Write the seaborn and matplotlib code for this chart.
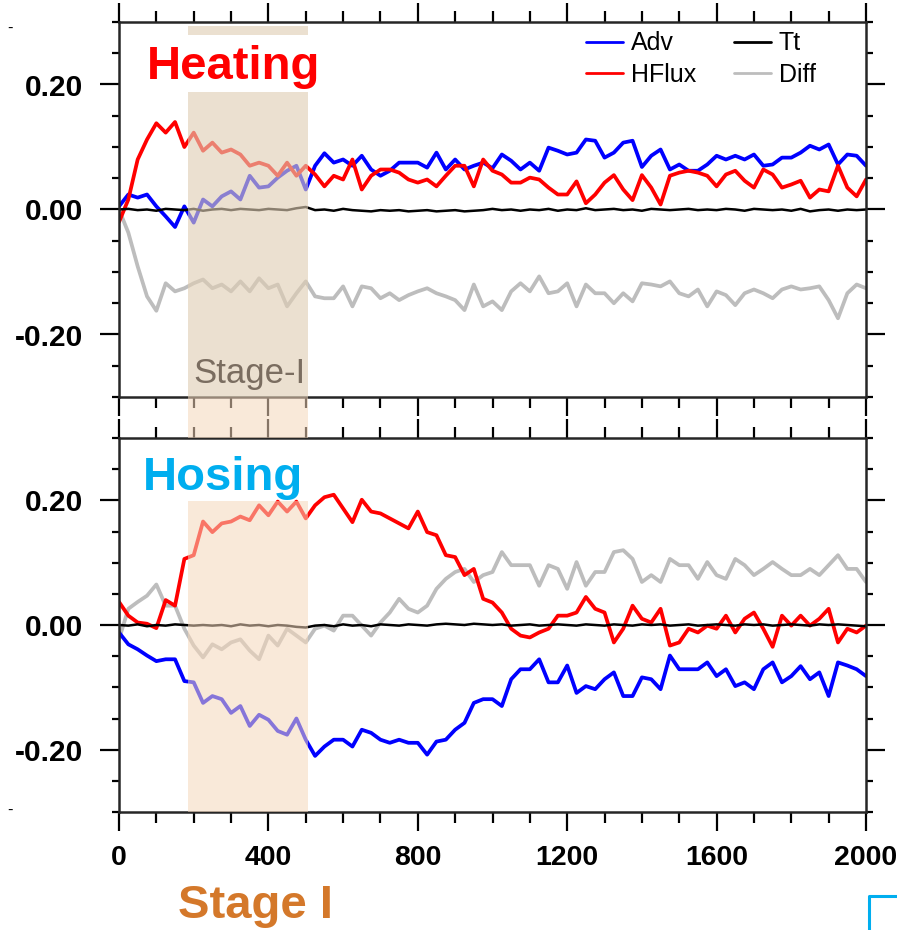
import numpy as np
import pandas as pd
import matplotlib
matplotlib.use("Agg")
import matplotlib.pyplot as plt
from matplotlib.lines import Line2D
import seaborn as sns

# model years sampled every 25 yr
years = np.arange(0, 2001, 25)

# ---- Heating experiment ----
heat_adv = [0.005, 0.024, 0.019, 0.024, 0.005, -0.011, -0.028, 0.005, -0.021, 0.016,
            0.005, 0.021, 0.029, 0.016, 0.054, 0.035, 0.037, 0.051, 0.062, 0.07,
            0.032, 0.07, 0.09, 0.075, 0.08, 0.07, 0.086, 0.064, 0.054, 0.062,
            0.075, 0.075, 0.075, 0.067, 0.091, 0.064, 0.08, 0.064, 0.07, 0.075,
            0.066, 0.088, 0.078, 0.064, 0.075, 0.062, 0.099, 0.094, 0.088, 0.091,
            0.112, 0.11, 0.083, 0.091, 0.107, 0.11, 0.068, 0.086, 0.096, 0.064,
            0.072, 0.062, 0.062, 0.072, 0.086, 0.08, 0.086, 0.08, 0.088, 0.07,
            0.072, 0.083, 0.083, 0.091, 0.102, 0.096, 0.104, 0.072, 0.088, 0.086,
            0.07]
heat_hflux = [-0.02, 0.016, 0.08, 0.112, 0.138, 0.123, 0.14, 0.10, 0.123, 0.094,
              0.107, 0.091, 0.096, 0.088, 0.07, 0.075, 0.07, 0.054, 0.075, 0.054,
              0.07, 0.056, 0.037, 0.054, 0.048, 0.08, 0.032, 0.054, 0.064, 0.064,
              0.059, 0.048, 0.043, 0.048, 0.037, 0.054, 0.07, 0.07, 0.037, 0.08,
              0.062, 0.056, 0.043, 0.043, 0.051, 0.048, 0.035, 0.024, 0.024, 0.045,
              0.01, 0.024, 0.043, 0.055, 0.032, 0.015, 0.055, 0.035, 0.008, 0.054,
              0.059, 0.062, 0.059, 0.054, 0.037, 0.056, 0.062, 0.046, 0.035, 0.064,
              0.056, 0.035, 0.04, 0.046, 0.019, 0.032, 0.029, 0.07, 0.035, 0.021,
              0.048]
heat_tt = [0.0, 0.001, -0.001, 0.0, -0.002, 0.001, 0.0, -0.001, 0.001, -0.002,
           0.0, 0.001, -0.001, 0.001, 0.0, -0.001, 0.001, 0.0, -0.001, 0.002,
           0.004, -0.001, 0.0, -0.002, 0.001, -0.001, -0.002, -0.003, -0.001, -0.002,
           -0.001, -0.003, -0.002, -0.001, -0.003, -0.002, -0.001, -0.003, -0.002, -0.001,
           0.001, -0.001, 0.0, -0.002, 0.0, -0.001, 0.001, -0.002, 0.0, -0.001,
           0.002, -0.001, 0.0, 0.001, -0.001, 0.0, -0.002, 0.001, 0.0, -0.001,
           0.0, 0.001, -0.001, 0.0, -0.001, 0.001, 0.0, -0.002, 0.001, 0.0,
           -0.001, 0.0, -0.002, 0.001, -0.003, -0.001, 0.0, -0.002, 0.0, -0.001,
           0.0]
heat_diff = [0.0, -0.037, -0.091, -0.139, -0.162, -0.118, -0.131, -0.126, -0.118, -0.112,
             -0.126, -0.12, -0.131, -0.115, -0.131, -0.11, -0.126, -0.12, -0.155, -0.134,
             -0.115, -0.139, -0.142, -0.142, -0.123, -0.155, -0.123, -0.126, -0.142, -0.134,
             -0.145, -0.137, -0.131, -0.126, -0.134, -0.139, -0.145, -0.161, -0.12, -0.155,
             -0.147, -0.161, -0.131, -0.118, -0.131, -0.107, -0.134, -0.131, -0.118, -0.155,
             -0.12, -0.134, -0.134, -0.15, -0.134, -0.147, -0.118, -0.12, -0.123, -0.115,
             -0.134, -0.139, -0.128, -0.155, -0.131, -0.137, -0.153, -0.134, -0.128, -0.134,
             -0.142, -0.128, -0.123, -0.128, -0.126, -0.123, -0.145, -0.174, -0.134, -0.12,
             -0.126]

# ---- Hosing experiment ----
hose_adv = [-0.012, -0.031, -0.039, -0.049, -0.058, -0.055, -0.055, -0.09, -0.092, -0.125,
            -0.114, -0.119, -0.141, -0.13, -0.162, -0.144, -0.152, -0.17, -0.176, -0.15,
            -0.184, -0.21, -0.195, -0.184, -0.184, -0.195, -0.168, -0.173, -0.184, -0.189,
            -0.184, -0.189, -0.189, -0.208, -0.187, -0.184, -0.168, -0.157, -0.125, -0.119,
            -0.119, -0.13, -0.087, -0.071, -0.071, -0.055, -0.092, -0.092, -0.065, -0.109,
            -0.098, -0.103, -0.087, -0.076, -0.114, -0.114, -0.084, -0.087, -0.103, -0.049,
            -0.071, -0.071, -0.071, -0.06, -0.082, -0.071, -0.098, -0.092, -0.103, -0.071,
            -0.06, -0.092, -0.082, -0.066, -0.087, -0.076, -0.114, -0.06, -0.065, -0.071,
            -0.082]
hose_hflux = [0.037, 0.015, 0.004, 0.002, -0.005, 0.04, 0.031, 0.106, 0.112, 0.166,
              0.149, 0.163, 0.166, 0.174, 0.168, 0.192, 0.176, 0.198, 0.182, 0.198,
              0.171, 0.192, 0.205, 0.209, 0.187, 0.165, 0.201, 0.182, 0.179, 0.171,
              0.163, 0.155, 0.182, 0.149, 0.144, 0.112, 0.109, 0.08, 0.09, 0.042,
              0.036, 0.02, -0.006, -0.017, -0.02, -0.012, -0.006, 0.015, 0.015, 0.02,
              0.045, 0.026, 0.02, -0.028, -0.006, 0.031, 0.01, 0.004, 0.026, -0.033,
              -0.028, -0.006, -0.012, -0.001, -0.006, 0.015, -0.012, 0.01, 0.02, -0.006,
              -0.035, 0.015, -0.001, 0.015, -0.001, 0.01, 0.026, -0.028, -0.006, -0.012,
              -0.001]
hose_tt = [0.0, -0.001, 0.001, -0.002, 0.0, -0.001, 0.001, 0.0, -0.001, 0.0,
           -0.001, 0.0, -0.002, 0.001, -0.001, 0.0, -0.002, 0.0, -0.001, -0.003,
           -0.004, -0.001, 0.0, -0.002, 0.001, -0.001, 0.0, -0.002, 0.001, 0.0,
           -0.001, 0.001, 0.0, -0.001, 0.001, 0.002, 0.001, 0.0, 0.002, 0.001,
           0.0, 0.001, -0.001, 0.0, 0.001, -0.001, 0.0, 0.001, 0.0, -0.001,
           0.001, 0.0, -0.001, 0.001, 0.0, -0.001, 0.001, 0.0, 0.001, -0.001,
           0.0, 0.001, -0.001, 0.0, 0.001, 0.0, -0.001, 0.001, 0.0, 0.001,
           -0.001, 0.0, 0.001, 0.0, -0.001, 0.001, 0.0, 0.001, 0.0, -0.001,
           -0.002]
hose_diff = [-0.023, 0.026, 0.037, 0.047, 0.065, 0.031, 0.031, -0.006, -0.033, -0.052,
             -0.031, -0.039, -0.028, -0.023, -0.041, -0.055, -0.017, -0.033, -0.006, -0.017,
             -0.028, -0.006, -0.001, -0.009, 0.015, 0.015, -0.001, -0.017, 0.004, 0.02,
             0.042, 0.026, 0.02, 0.031, 0.058, 0.074, 0.085, 0.09, 0.069, 0.08,
             0.085, 0.117, 0.096, 0.096, 0.096, 0.063, 0.096, 0.09, 0.058, 0.101,
             0.063, 0.085, 0.085, 0.117, 0.12, 0.106, 0.069, 0.08, 0.069, 0.106,
             0.096, 0.096, 0.074, 0.101, 0.08, 0.074, 0.106, 0.096, 0.08, 0.09,
             0.101, 0.09, 0.08, 0.08, 0.09, 0.08, 0.096, 0.112, 0.09, 0.09,
             0.069]

stage1 = (185, 505)
series_names = ["Adv", "HFlux", "Tt", "Diff"]
colors = {"Adv": "#0000ff", "HFlux": "#ff0000", "Tt": "#000000", "Diff": "#bdbdbd"}
widths = {"Adv": 2.7, "HFlux": 2.7, "Tt": 1.8, "Diff": 2.7}
draw_order = ["Diff", "Adv", "HFlux", "Tt"]

sns.set_style("ticks")
plt.rcParams["font.family"] = ["Liberation Sans", "DejaVu Sans"]
plt.rcParams["text.color"] = "black"

fig = plt.figure(figsize=(8.97, 9.30), dpi=100)
W, H = 897.0, 930.0
ax1 = fig.add_axes([119 / W, 1 - 397 / H, 747 / W, 375 / H])
ax2 = fig.add_axes([119 / W, 1 - 812 / H, 747 / W, 374 / H])

panels = [
    (ax1, {"Adv": heat_adv, "HFlux": heat_hflux, "Tt": heat_tt, "Diff": heat_diff}),
    (ax2, {"Adv": hose_adv, "HFlux": hose_hflux, "Tt": hose_tt, "Diff": hose_diff}),
]

handles = {}
for ax, data in panels:
    df = pd.DataFrame(data)
    df["year"] = years
    for name in draw_order:
        sns.lineplot(data=df, x="year", y=name, ax=ax, color=colors[name],
                     linewidth=widths[name], zorder=2)
        handles[name] = ax.lines[-1]
    ax.set_xlim(0, 2000)
    ax.set_ylim(-0.3, 0.3)
    ax.set_xlabel("")
    ax.set_ylabel("")
    ax.set_xticks([0, 400, 800, 1200, 1600, 2000])
    ax.set_xticks(np.arange(0, 2001, 100), minor=True)
    ax.set_yticks([-0.2, 0.0, 0.2])
    ax.set_yticks(np.arange(-0.3, 0.31, 0.05), minor=True)
    ax.set_yticklabels(["-0.20", "0.00", "0.20"])
    ax.tick_params(which="both", direction="out", top=True, right=True,
                   labelright=False, labeltop=False, width=1.6, color="black",
                   labelcolor="black")
    ax.tick_params(which="major", length=14)
    ax.tick_params(axis="y", which="major", pad=12, labelsize=21.5)
    ax.tick_params(axis="x", which="major", pad=10, labelsize=20.5)
    ax.tick_params(axis="x", which="minor", length=8)
    ax.tick_params(axis="y", which="minor", length=5)
    for lab in ax.get_xticklabels() + ax.get_yticklabels():
        lab.set_fontweight("bold")
    for sp in ax.spines.values():
        sp.set_visible(True)
        sp.set_linewidth(1.8)

ax1.tick_params(labelbottom=False)

# Stage-I shading (drawn over the curves, as in the original)
tan = "#e0ceb4"
peach = "#f5d7bb"
ax1.axvspan(*stage1, ymin=0.0, ymax=0.813, color=tan, alpha=0.62, lw=0, zorder=4)
ax1.axvspan(*stage1, ymin=0.965, ymax=0.99, color=tan, alpha=0.62, lw=0, zorder=4)
ax2.axvspan(*stage1, ymin=0.0, ymax=0.832, color=peach, alpha=0.55, lw=0, zorder=4)
ax2.axvspan(*stage1, ymin=1.0, ymax=1.1096, color=peach, alpha=0.55, lw=0,
            zorder=4, clip_on=False)

ax1.text(75, 0.209, "Heating", color="#ff0000", fontsize=34, fontweight="bold",
         ha="left", va="baseline", zorder=6)
ax2.text(64, 0.216, "Hosing", color="#00aeef", fontsize=34, fontweight="bold",
         ha="left", va="baseline", zorder=6)
ax1.text(198, -0.278, "Stage-I", color="#7a6d60", fontsize=25,
         ha="left", va="baseline", zorder=6)

leg = ax1.legend([handles[n] for n in series_names], series_names, ncol=2,
                 loc="upper left", bbox_to_anchor=(0.625, 0.975), frameon=False,
                 fontsize=18, handlelength=1.5, handletextpad=0.3,
                 columnspacing=1.5, labelspacing=0.3, borderpad=0,
                 borderaxespad=0)
for lh in leg.get_lines():
    lh.set_linewidth(2.0)

fig.text(178 / W, 1 - 918 / H, "Stage I", color="#d4782a", fontsize=34,
         fontweight="bold", ha="left", va="baseline")
fig.text(7 / W, 1 - 28 / H, "-", fontsize=12, ha="left", va="center")
fig.text(7 / W, 1 - 810 / H, "-", fontsize=12, ha="left", va="center")

fig.add_artist(Line2D([869 / W, 869 / W, 1.0], [0.0, 1 - 896 / H, 1 - 896 / H],
                      transform=fig.transFigure, color="#00aeef", lw=2.2))

fig.savefig("out.png", dpi=100)
